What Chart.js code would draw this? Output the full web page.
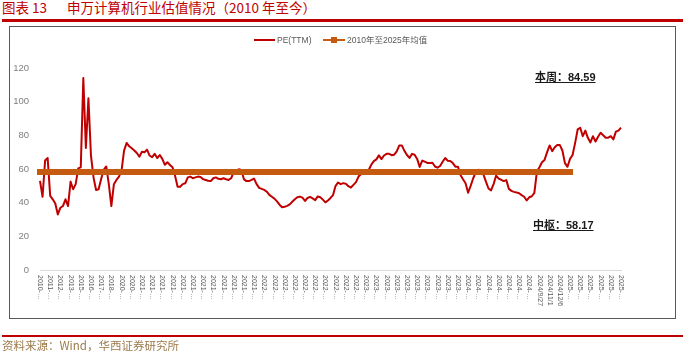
<!DOCTYPE html>
<html><head><meta charset="utf-8">
<script src="https://cdn.jsdelivr.net/npm/chart.js@4.4.1/dist/chart.umd.min.js"></script>
<style>
html,body{margin:0;padding:0;background:#fff;width:686px;height:356px;overflow:hidden;}
#wrap{position:relative;width:686px;height:356px;font-family:"Noto Sans CJK SC","Liberation Sans",sans-serif;}
.t{position:absolute;white-space:pre;}
#title1{left:2px;top:-1px;font-size:13.5px;line-height:16px;color:#C00000;}
#title2{left:67px;top:-1px;font-size:13.5px;line-height:16px;color:#C00000;}
#topline{position:absolute;left:2px;top:19px;width:681px;height:3px;background:#C00000;}
#box{position:absolute;left:9px;top:26px;width:667px;height:293px;border:1px solid #595959;box-sizing:border-box;}
#cv{position:absolute;left:0;top:0;}
#botline{position:absolute;left:2px;top:335px;width:681px;height:2px;background:#C00000;}
#src{left:2px;top:338px;font-size:11.5px;line-height:14px;color:#9C7A4B;}
.lg{position:absolute;font-family:"Liberation Sans","Noto Sans CJK SC",sans-serif;font-size:8.5px;line-height:10px;color:#595959;top:35px;}
.sw{position:absolute;height:2px;}
.note{font-weight:bold;font-size:11px;line-height:13px;color:#1a1a1a;text-decoration:underline;font-family:"Liberation Sans","Noto Sans CJK SC",sans-serif;}
</style></head>
<body><div id="wrap">
<div class="t" id="title1">图表 13</div>
<div class="t" id="title2">申万计算机行业估值情况（2010 年至今）</div>
<div id="topline"></div>
<div id="box"></div>
<canvas id="cv" width="686" height="356"></canvas>
<div class="sw" style="left:254px;top:39px;width:21px;background:#C00000"></div>
<div class="lg" style="left:277px">PE(TTM)</div>
<div class="sw" style="left:323px;top:39px;width:22px;background:#C55A11"></div>
<div style="position:absolute;left:331px;top:37px;width:6px;height:6px;background:#C55A11"></div>
<div class="lg" style="left:347px">2010年至2025年均值</div>
<div class="t note" style="left:535px;top:71px">本周：84.59</div>
<div class="t note" style="left:533px;top:219px">中枢：58.17</div>
<div id="botline"></div>
<div class="t" id="src">资料来源：Wind，华西证券研究所</div>
</div>
<script>
// tick labels shown on the category axis (one every 4 data points)
const tickLabels = [
 "2010-…","2011-…","2012-…","2013-…","2015-…","2016-…","2017-…","2018-…","2020-…","2020-…",
 "2021-…","2021-…","2021-…","2021-…","2021-…","2021-…","2021-…","2021-…","2021-…","2021-…","2021-…","2021-…",
 "2022-…","2022-…","2022-…","2022-…","2022-…","2022-…","2022-…","2022-…","2022-…","2022-…",
 "2023-…","2023-…","2023-…","2023-…","2023-…","2023-…","2023-…","2023-…","2023-…","2023-…",
 "2024-…","2024-…","2024-…","2024-…","2024-…","2024-…","2024-…","2024/9/27","2024/11/1","2024/12/6",
 "2025-…","2025-…","2025-…","2025-…","2025-…","2025-…"
];
const pointsPerTick = 4;
// PE(TTM) series
const peValues = [
 53,43.5,65,66.5,44,42,39.5,33,37,38,
 42,38,52.5,48,51,60.4,61,114,72.5,102,
 68,55,47.5,48,54,59.5,61.5,51,38,51,
 53.5,55.5,59,71,75.5,73.5,72.3,71,69.5,67.3,
 70.3,70,71.5,68,67,69,66.5,68.3,66,62.5,
 64,62.4,61,56,49.5,49.5,51,51.5,55,55.5,
 54.5,55,55.5,55.2,54,53.5,53,52.8,54.5,55,
 54.2,53.9,54.5,53.9,53.5,54.5,58,59,59.8,59.4,
 54,52.8,52.8,53.5,54.3,51,48.8,48.2,47.6,46.5,
 44.6,43.5,42.4,40.8,38.8,37.3,37.6,38.1,39,40.5,
 42,43.2,43.6,43,41,42.8,43.4,42.5,41.5,43.7,
 43.2,41.8,40.2,41.3,42.8,44.5,50,52,51,51.6,
 51.3,49.8,49,50.6,52.2,55.5,57,57.5,57.5,59.4,
 62.5,64.7,65.7,68.1,65.9,68,69,69,68.2,68.5,
 70.5,74,74,70.8,68.3,66.6,69,68.5,66,61.2,
 65,64.4,63.6,63.5,63.7,61.5,60.8,61.8,64.3,66.5,
 64.9,64.8,63.5,61.4,61.4,56.5,53.9,51.5,45.9,50,
 54.5,58,59.5,59.3,56.8,52.5,48.4,47.3,51,56.1,
 54.3,53.6,52.8,53.4,48.2,47,46.4,46.1,45.6,44.5,
 43.5,41.3,43.2,43.8,45.8,58.6,61,64,65.4,70,
 74,70.6,72.9,74.3,74.2,71,63.5,61.3,66,68.3,
 75.5,83.5,84.5,79.5,82.8,78.5,75.8,79.5,76.3,79.2,
 81.5,80.1,78.6,78.6,79.5,77.6,82.2,82.8,84.59
];
const meanValue = 58.17;      // 2010年至2025年均值
const meanLastIndex = 208;    // the average line stops here
const yTicks = [0,20,40,60,80,100,120];

const axisLabels = peValues.map((_, i) => i % pointsPerTick === 0 ? (tickLabels[i / pointsPerTick] || '') : '');
const meanSeries = peValues.map((_, i) => i <= meanLastIndex ? meanValue : null);

const xLabelPlugin = {
  id: 'xlabels',
  afterDraw(chart) {
    const ctx = chart.ctx, x = chart.scales.x;
    ctx.save();
    ctx.font = '7px "Liberation Sans", sans-serif';
    ctx.fillStyle = '#595959';
    ctx.textAlign = 'left';
    ctx.textBaseline = 'middle';
    tickLabels.forEach((t, i) => {
      const px = x.getPixelForValue(i * pointsPerTick);
      ctx.save();
      ctx.translate(px, 275);
      ctx.rotate(Math.PI / 2);
      ctx.fillText(t, 0, 0);
      ctx.restore();
    });
    ctx.restore();
  }
};

new Chart(document.getElementById('cv'), {
  type: 'line',
  data: {
    labels: axisLabels,
    datasets: [
      { label: '2010年至2025年均值', data: meanSeries, borderColor: '#C55A11', backgroundColor: '#C55A11',
        borderWidth: 6, pointRadius: 0, borderCapStyle: 'square', order: 0, tension: 0 },
      { label: 'PE(TTM)', data: peValues, borderColor: '#C00000', backgroundColor: '#C00000',
        borderWidth: 2, pointRadius: 0, borderJoinStyle: 'round', order: 1, tension: 0 }
    ]
  },
  options: {
    responsive: false, animation: false, devicePixelRatio: 1,
    layout: { padding: { left: 0, right: 65, top: 68, bottom: 0 } },
    plugins: { legend: { display: false }, tooltip: { enabled: false }, title: { display: false } },
    scales: {
      x: {
        type: 'category', offset: false,
        grid: { display: false, drawTicks: false },
        border: { display: true, color: '#D9D9D9', width: 1 },
        ticks: { display: false, autoSkip: false },
        afterFit(s) { s.height = 86; }
      },
      y: {
        min: 0, max: 120,
        afterBuildTicks(s) { s.ticks = yTicks.map(v => ({ value: v })); },
        ticks: { color: '#7F7F7F', font: { size: 9.5, family: '"Liberation Sans", sans-serif' }, padding: 11 },
        grid: { display: false, drawTicks: false },
        border: { display: false },
        afterFit(s) { s.width = 40; }
      }
    }
  },
  plugins: [xLabelPlugin]
});
</script>
</body></html>
